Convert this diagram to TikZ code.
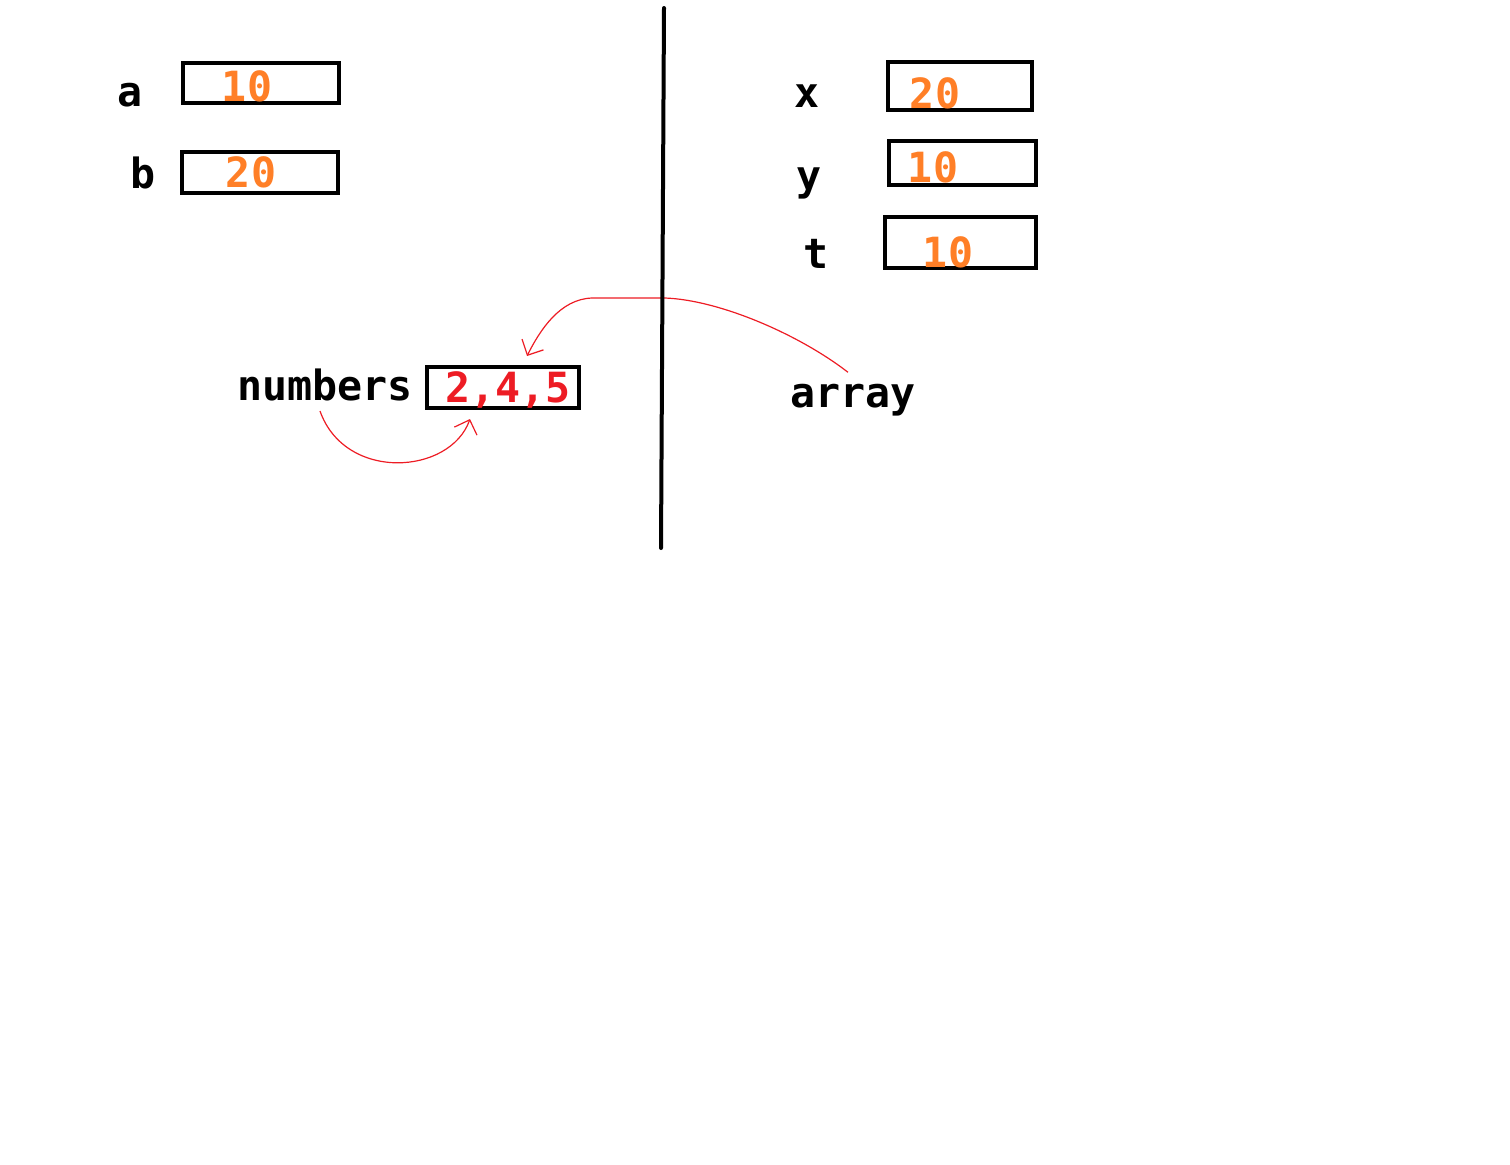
\documentclass[tikz,border=0pt]{standalone}
\usepackage{fontspec}
\usepackage{tikz}
\usetikzlibrary{arrows.meta}

\newfontfamily\codefont{DejaVu Sans Mono}
\definecolor{paintorange}{HTML}{FF7F27}
\definecolor{paintred}{HTML}{ED1C24}

\tikzset{
	cell/.style = {draw, line width = 2pt, inner sep = 0pt, outer sep = 0pt},
	name label/.style = {anchor = base, inner sep = 0pt, font = \codefont\bfseries\fontsize{20.8pt}{24pt}\selectfont},
	value/.style = {name label, text = paintorange},
	ref/.style = {draw = paintred, line width = 0.6pt, -{Straight Barb[length = 6pt, width = 12pt]}}
}

\begin{document}
\begin{tikzpicture}[x = 0.5pt, y = -0.5pt]
		\useasboundingbox (0, 0) rectangle (1510, 1164);
		
		% left side
		\node [name label] (a name) at (130, 106) {a};
		\node [cell, minimum width = 78pt, minimum height = 20pt] (a box) at (261, 83) {};
		\node [value] (a value) at (247, 101) {10};
		
		\node [name label] (b name) at (143, 188) {b};
		\node [cell, minimum width = 78pt, minimum height = 20.5pt] (b box) at (260, 172.5) {};
		\node [value] (b value) at (251, 187) {20};
		
		\node [name label] (numbers name) at (325, 400) {numbers};
		\node [cell, minimum width = 76pt, minimum height = 20.5pt] (numbers box) at (503, 387.5) {};
		\node [value, text = paintred] (numbers value) at (508, 402) {2,4,5};
		
		% right side
		\node [name label] (x name) at (807, 107) {x};
		\node [cell, minimum width = 72pt, minimum height = 24pt] (x box) at (960, 86) {};
		\node [value] (x value) at (935, 108) {20};
		
		\node [name label] (y name) at (809, 190) {y};
		\node [cell, minimum width = 73.5pt, minimum height = 22pt] (y box) at (962.5, 163) {};
		\node [value] (y value) at (933, 182) {10};
		
		\node [name label] (t name) at (816, 268) {t};
		\node [cell, minimum width = 75.5pt, minimum height = 25.5pt] (t box) at (960.5, 242.5) {};
		\node [value] (t value) at (948, 267) {10};
		
		\node [name label] (array name) at (853, 407) {array};
		
		% references
		\draw [ref] ([shift = {(-5, -11)}] array name.north) .. controls (800, 335) and (720, 300) .. (665, 298) -- (592, 298) .. controls (560, 299) and (540, 330) .. ([shift = {(24, -11)}] numbers box.north);
		\draw [ref] ([shift = {(-5, 10)}] numbers name.south) .. controls (345, 482) and (450, 475) .. ([shift = {(-33, 11)}] numbers box.south);
		
		\draw [line width = 2pt, line cap = round] (664, 8) -- (661, 548);
	\end{tikzpicture}
\end{document}
